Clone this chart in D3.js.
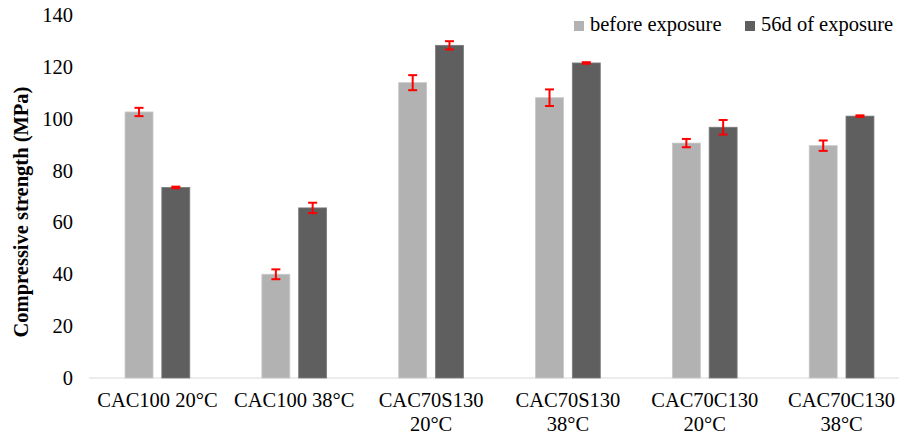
<!DOCTYPE html>
<html><head><meta charset="utf-8">
<script src="https://cdn.jsdelivr.net/npm/d3@7"></script>
<style>body{margin:0;background:#fff}svg{display:block}</style>
</head><body><svg id="c" width="899" height="438" font-family="Liberation Serif, Times New Roman, serif"></svg>
<script>
const categories = [["CAC100 20°C"],["CAC100 38°C"],["CAC70S130","20°C"],["CAC70S130","38°C"],["CAC70C130","20°C"],["CAC70C130","38°C"]];
const seriesNames = ["before exposure","56d of exposure"];
const beforeValues = [102.6, 40.0, 113.9, 108.1, 90.6, 89.6];
const beforeErrors = [1.6, 1.9, 2.9, 3.2, 1.6, 2.0];
const afterValues = [73.5, 65.6, 128.3, 121.5, 96.7, 101.0];
const afterErrors = [0.3, 2.0, 1.6, 0.3, 2.8, 0.3];
const yTicks = [0,20,40,60,80,100,120,140];
const colors = ["#b2b2b2","#5f5f5f"];
const FONT = "Liberation Serif";
const FS = 20.5;

const svg = d3.select("#c");
const x = d3.scaleBand().domain(d3.range(categories.length)).range([89, 910]);
const y = d3.scaleLinear().domain([0,140]).range([378, 15]);
const sub = d3.scaleBand().domain([0,1]).range([0, x.bandwidth()]).paddingInner(0.24).paddingOuter(0.98);

svg.append("line").attr("x1",89).attr("x2",899).attr("y1",y(0)).attr("y2",y(0)).attr("stroke","#d9d9d9").attr("stroke-width",1);

const yAxis = svg.append("g").attr("transform","translate(73,0)").call(d3.axisLeft(y).tickValues(yTicks).tickSize(0).tickPadding(0));
yAxis.attr("font-family",FONT);
yAxis.select(".domain").remove();
yAxis.selectAll("text").attr("font-size",FS).attr("fill","#000").attr("font-family",FONT).attr("dy","0.32em");

const data = [beforeValues, afterValues];
const errs = [beforeErrors, afterErrors];
data.forEach((vals, s) => {
  const g = svg.append("g");
  g.selectAll("rect").data(vals).join("rect")
    .attr("x",(d,i)=>x(i)+sub(s)).attr("width",sub.bandwidth())
    .attr("y",d=>y(d)).attr("height",d=>y(0)-y(d))
    .attr("fill",colors[s]).attr("stroke", s===0?"#c8c8c8":"#7a7a7a").attr("stroke-width",0.8);
  const e = svg.append("g").attr("stroke","#ff0000").attr("stroke-width",2);
  vals.forEach((d,i)=>{
    const cx = x(i)+sub(s)+sub.bandwidth()/2, er = errs[s][i];
    e.append("line").attr("x1",cx).attr("x2",cx).attr("y1",y(d+er)).attr("y2",y(d-er));
    e.append("line").attr("x1",cx-4.5).attr("x2",cx+4.5).attr("y1",y(d+er)).attr("y2",y(d+er));
    e.append("line").attr("x1",cx-4.5).attr("x2",cx+4.5).attr("y1",y(d-er)).attr("y2",y(d-er));
  });
});

categories.forEach((lines,i)=>{
  const t = svg.append("text").attr("x",x(i)+x.bandwidth()/2).attr("y",407).attr("text-anchor","middle")
    .attr("font-size",FS).attr("font-family",FONT).attr("fill","#000");
  lines.forEach((l,k)=>t.append("tspan").attr("x",x(i)+x.bandwidth()/2).attr("dy",k===0?0:24).text(l));
});

svg.append("text").attr("transform","translate(28,212) rotate(-90)").attr("text-anchor","middle")
  .attr("font-size",FS).attr("font-weight","bold").attr("font-family",FONT).attr("fill","#000").text("Compressive strength (MPa)");

const legX = [574, 745];
seriesNames.forEach((n,s)=>{
  svg.append("rect").attr("x",legX[s]).attr("y",21).attr("width",10).attr("height",10).attr("fill",colors[s]);
  svg.append("text").attr("x",legX[s]+16).attr("y",31).attr("font-size",FS).attr("font-family",FONT).attr("fill","#000").text(n);
});
</script></body></html>
